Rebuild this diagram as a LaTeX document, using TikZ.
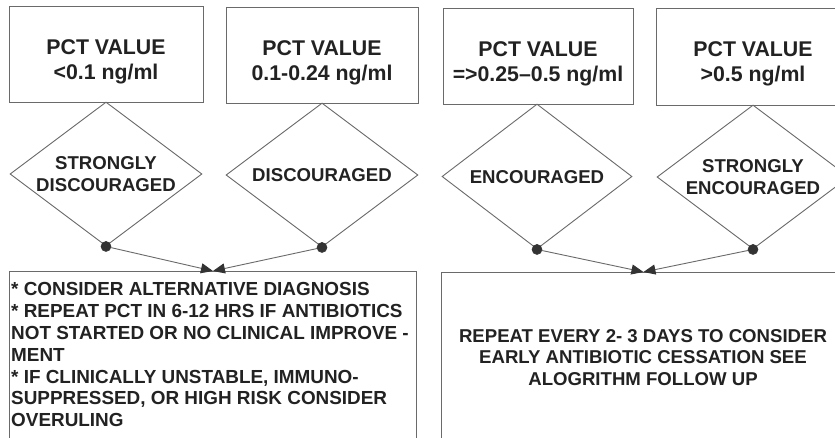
\documentclass[tikz,border=0pt]{standalone}
\usepackage{fontspec}
\setmainfont{Liberation Sans}
\usetikzlibrary{shapes.geometric,arrows.meta}
\definecolor{linegray}{HTML}{6A6A6A}
\definecolor{inkgray}{HTML}{222222}
\definecolor{dotgray}{HTML}{333333}
\tikzset{
  box/.style={draw=linegray, line width=0.9pt, rectangle, inner sep=0pt},
  boxtext/.style={text=inkgray, font=\bfseries\fontsize{21.3}{25}\selectfont, align=center, inner sep=0pt},
  dia/.style={draw=linegray, line width=0.9pt, diamond, aspect=1.333, inner sep=0pt,
              minimum width=192pt, minimum height=144pt},
  diatext/.style={text=inkgray, font=\bfseries\fontsize{18.6}{22.5}\selectfont, align=center, inner sep=0pt},
  bigtext/.style={text=inkgray, font=\bfseries\fontsize{18.9}{21.9}\selectfont, inner sep=0pt},
  righttext/.style={text=inkgray, font=\bfseries\fontsize{18.6}{21.6}\selectfont, inner sep=0pt},
  dot/.style={circle, fill=dotgray, draw=dotgray, line width=0.6pt, minimum size=10pt, inner sep=0pt},
  conn/.style={draw=linegray, line width=0.9pt, -{Triangle[length=12pt,width=10pt,color=dotgray]}},
}
\begin{document}
\begin{tikzpicture}[x=1pt,y=-1pt]
\useasboundingbox (0,0) rectangle (835,437);
\clip (0,0) rectangle (835,437);
\fill[white] (0,0) rectangle (835,437);
% top boxes
\node[box, minimum width=194pt, minimum height=96pt] (b1) at (106,54) {};
\node[box, minimum width=192pt, minimum height=96pt] (b2) at (322,55) {};
\node[box, minimum width=190pt, minimum height=96pt] (b3) at (538,56) {};
\node[box, minimum width=194pt, minimum height=97pt] (b4) at (753,56.5) {};
\node[boxtext] (t1) at (106,62) {PCT VALUE\\<0.1 ng/ml};
\node[boxtext] (t2) at (322,63) {PCT VALUE\\0.1-0.24 ng/ml};
\node[boxtext] (t3) at (538,64) {PCT VALUE\\=>0.25--0.5 ng/ml};
\node[boxtext] (t4) at (753,64) {PCT VALUE\\>0.5 ng/ml};
% diamonds
\node[dia] (d1) at (106,174) {};
\node[dia] (d2) at (322,175) {};
\node[dia, minimum width=190pt, minimum height=145pt] (d3) at (537,176.5) {};
\node[dia] (d4) at (753,177) {};
\node[diatext] (dt1) at (106,174) {STRONGLY\\DISCOURAGED};
\node[diatext] (dt2) at (322,175) {DISCOURAGED};
\node[diatext] (dt3) at (537,177) {ENCOURAGED};
\node[diatext] (dt4) at (753,177) {STRONGLY\\ENCOURAGED};
% dots
\node[dot] (p1) at (d1.south) {};
\node[dot] (p2) at (d2.south) {};
\node[dot] (p3) at (d3.south) {};
\node[dot] (p4) at (d4.south) {};
% bottom boxes
\node[box, minimum width=407pt, minimum height=180pt, anchor=north west] (r1) at (9,271) {};
\node[box, minimum width=404pt, minimum height=180pt, anchor=north west] (r2) at (441,272) {};
\node[bigtext, anchor=north west, align=left] (rt1) at (11,282) {* CONSIDER ALTERNATIVE DIAGNOSIS\\* REPEAT PCT IN 6-12 HRS IF ANTIBIOTICS\\NOT STARTED OR NO CLINICAL IMPROVE -\\MENT\\* IF CLINICALLY UNSTABLE, IMMUNO-\\SUPPRESSED, OR HIGH RISK CONSIDER\\OVERULING};
\node[righttext, anchor=north, align=center] (rt2) at (643,329) {REPEAT EVERY 2- 3 DAYS TO CONSIDER\\EARLY ANTIBIOTIC CESSATION SEE\\ALOGRITHM FOLLOW UP};
% connectors
\draw[conn] (p1) -- (r1.north);
\draw[conn] (p2) -- (r1.north);
\draw[conn] (p3) -- (r2.north);
\draw[conn] (p4) -- (r2.north);
\end{tikzpicture}
\end{document}
